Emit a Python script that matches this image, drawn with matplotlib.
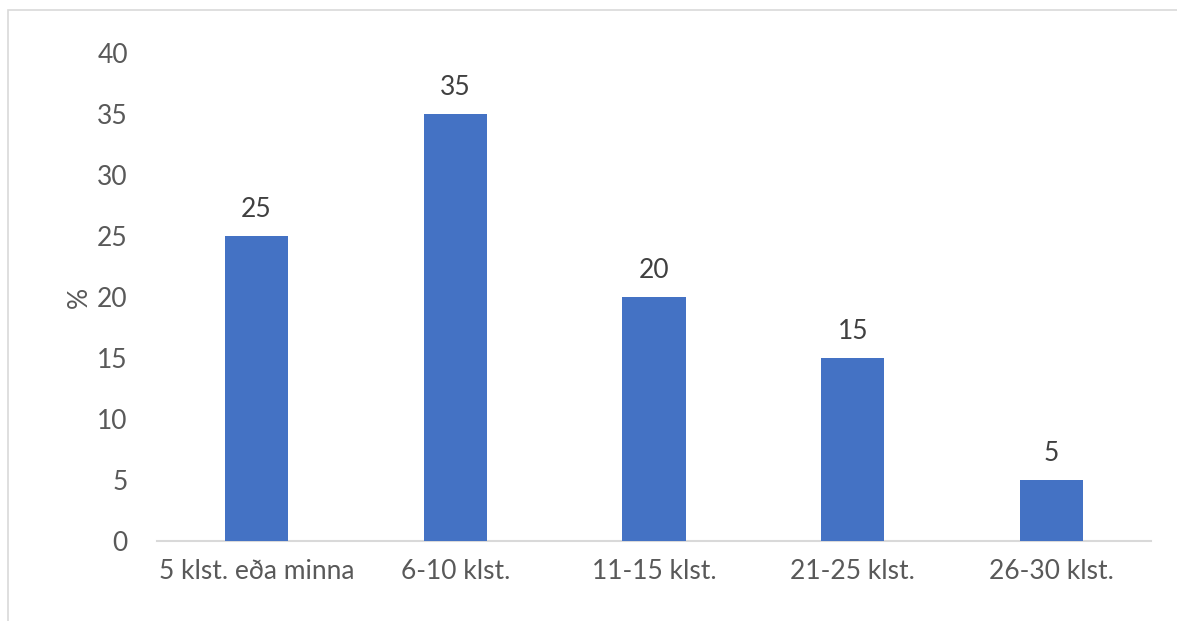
import matplotlib
matplotlib.use("Agg")
import matplotlib.pyplot as plt
from matplotlib.patches import Rectangle

categories = ["5 klst. eða minna", "6-10 klst.", "11-15 klst.", "21-25 klst.", "26-30 klst."]
values = [25, 35, 20, 15, 5]
yticks = [0, 5, 10, 15, 20, 25, 30, 35, 40]

plt.rcParams['font.family'] = ['Lato', 'DejaVu Sans']
W, H = 1177, 621
fig = plt.figure(figsize=(W/100, H/100), dpi=100)
ax = fig.add_axes([157/W, 1-541/H, (1151-157)/W, (541-53)/H])

x = list(range(len(categories)))
bars = ax.bar(x, values, width=0.317, color='#4472C4', zorder=3)
for xi, v in zip(x, values):
    ax.annotate(str(v), (xi, v), xytext=(0, 10), textcoords='offset points',
                ha='center', va='bottom', fontsize=19, color='#404040')

ax.set_xlim(-0.5, len(categories)-0.5)
ax.set_ylim(0, 40)
ax.set_yticks(yticks)
ax.set_xticks(x)
ax.set_xticklabels(categories)
ax.tick_params(axis='both', length=0, labelsize=19, colors='#595959')
ax.tick_params(axis='x', pad=13)
ax.tick_params(axis='y', pad=21)
for s in ['top', 'right', 'left']:
    ax.spines[s].set_visible(False)
ax.spines['bottom'].set_color('#D9D9D9')
ax.spines['bottom'].set_linewidth(1.5)
ax.set_ylabel('%', fontsize=19, color='#595959', labelpad=4)

fig.patches.append(Rectangle((8/W, -0.1), 1.2, 1.1 - 10/H + 0.0, transform=fig.transFigure,
                             fill=False, edgecolor='#D9D9D9', linewidth=1.2))
fig.savefig('out.png', dpi=100, facecolor='white')
